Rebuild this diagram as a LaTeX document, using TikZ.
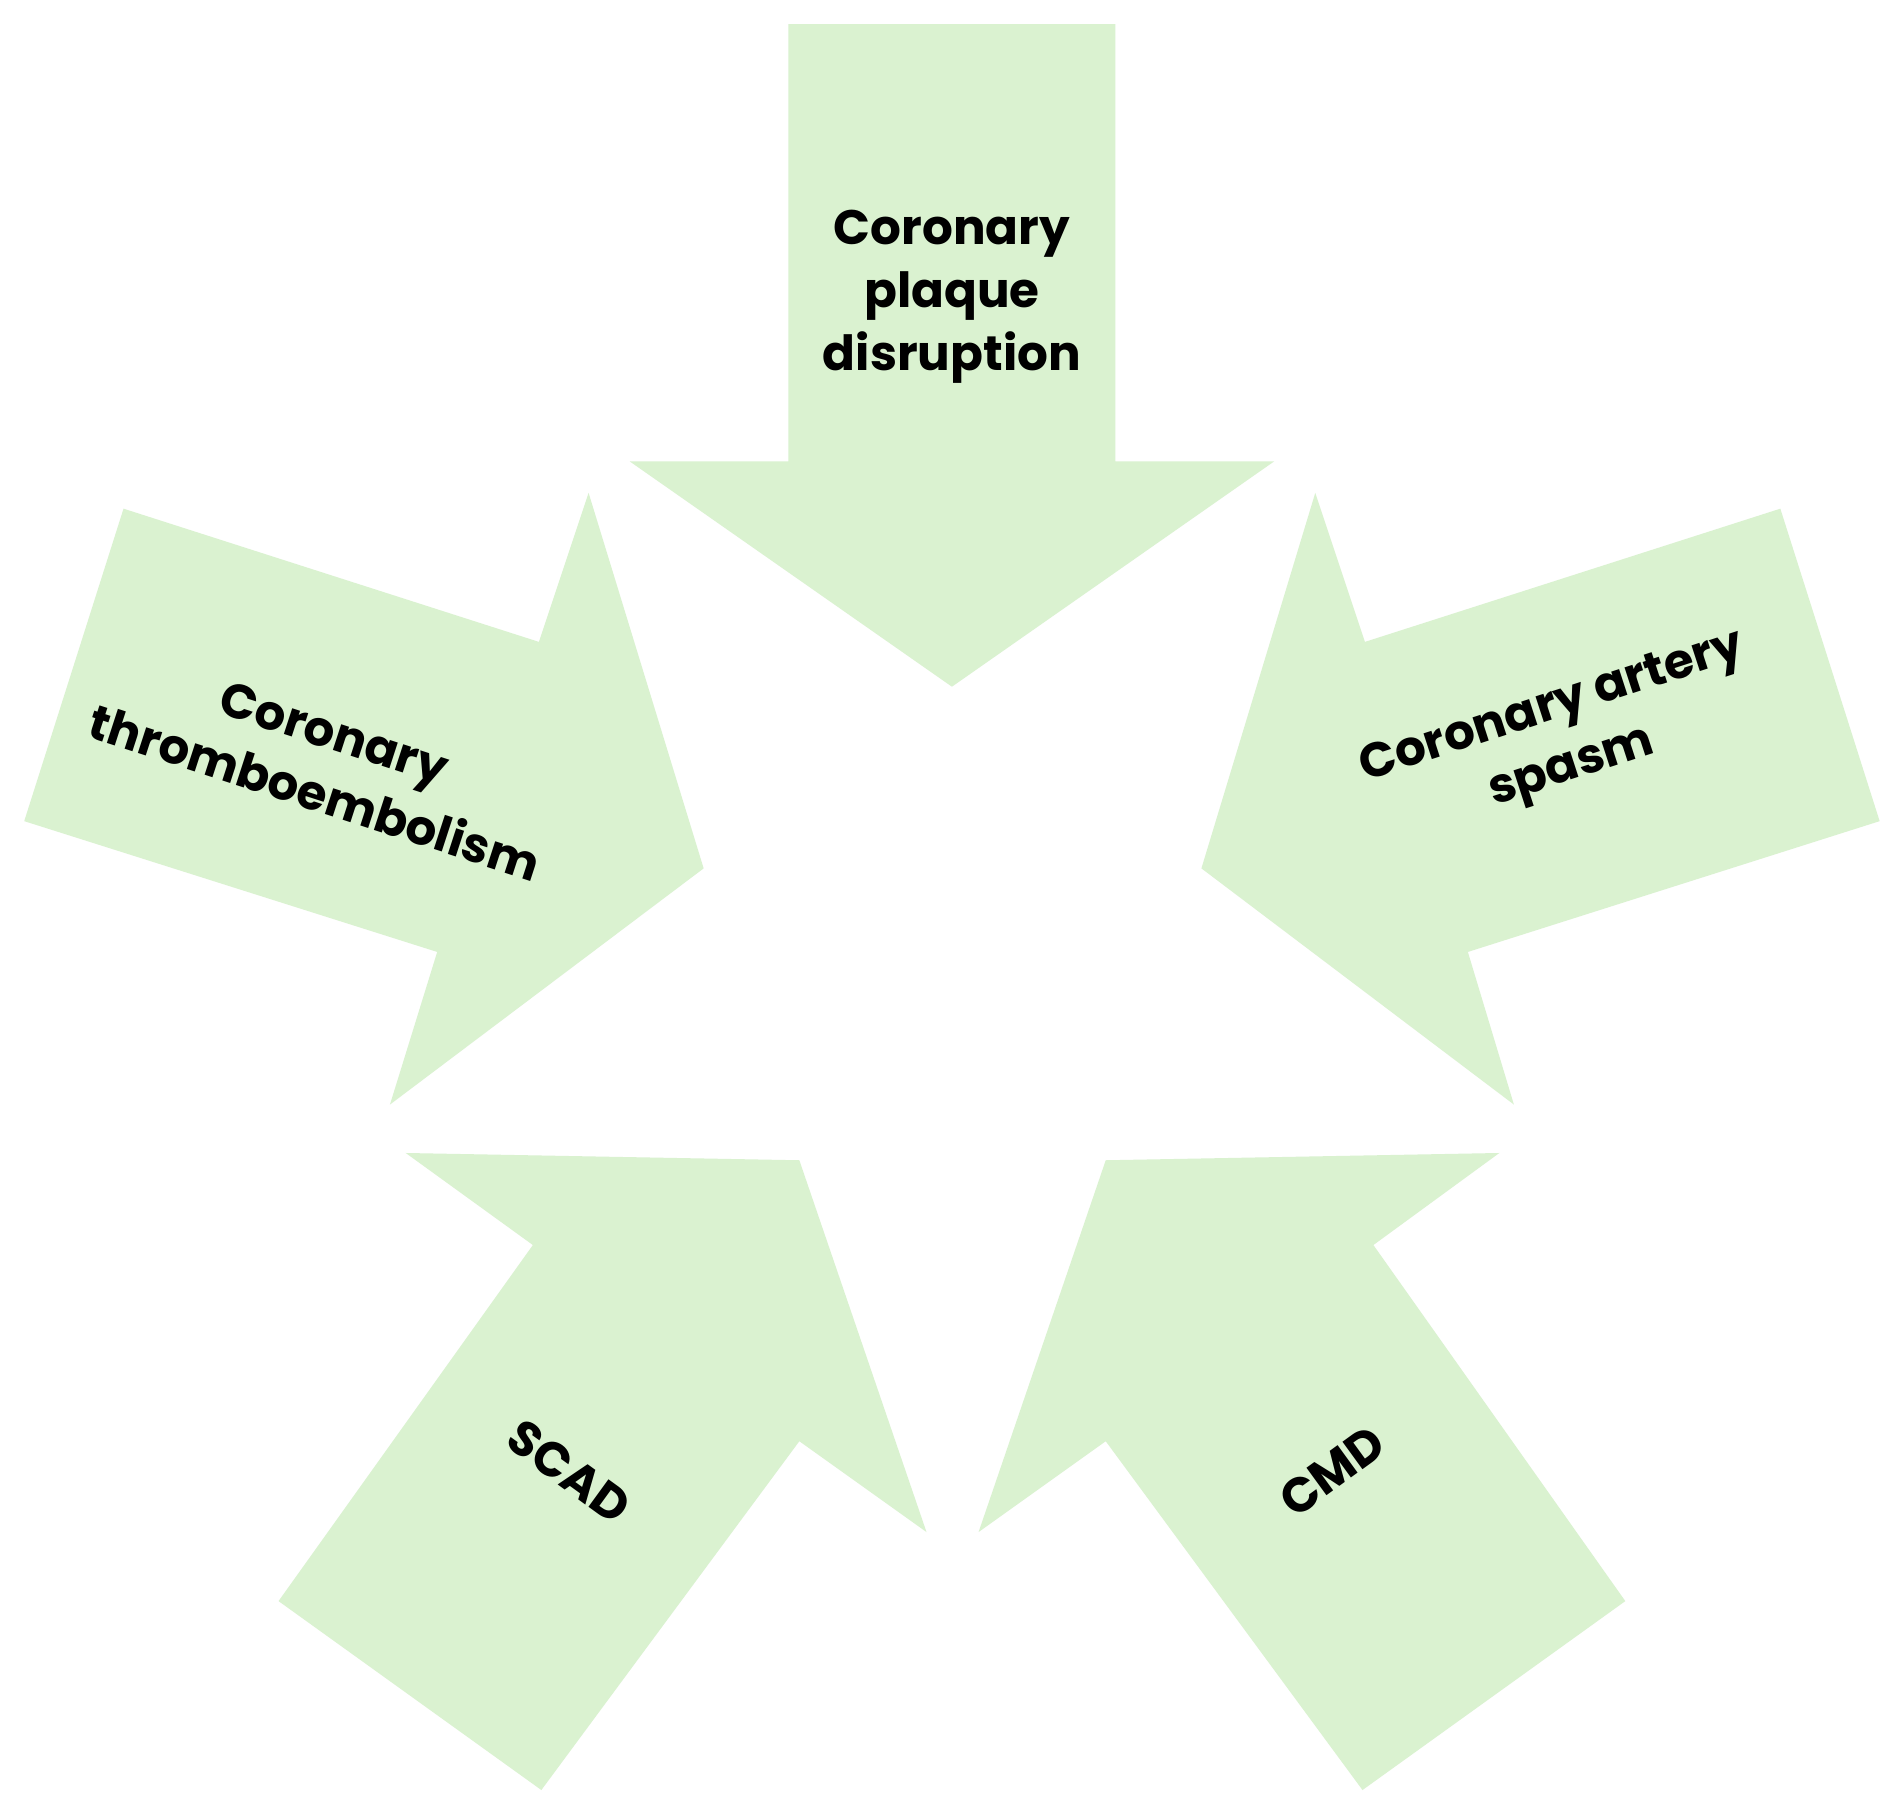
\documentclass[tikz,border=0pt]{standalone}
\usepackage{fontspec}
\setmainfont{Poppins}
\begin{document}
\begin{tikzpicture}[x=0.5pt,y=-0.5pt,
  arr/.style={fill=green!5!lime!10!white, fill=arrowgreen, draw=none},
  lab/.style={font=\fontsize{20}{26}\selectfont\bfseries, align=center, text=black}]
\definecolor{arrowgreen}{HTML}{DAF2D0}
\useasboundingbox[fill=white] (0,0) rectangle (1568,1496);
\fill[arrowgreen] (651,20)--(921,20)--(921,381)--(1052,381)--(786,567)--(520,381)--(651,381)--cycle;
\fill[arrowgreen] (102,420)--(445,530)--(486,407)--(581,717)--(322,912)--(361,786)--(20,678)--cycle;
\fill[arrowgreen] (1470,420)--(1127,530)--(1086,407)--(992,717)--(1250,912)--(1212,786)--(1552,678)--cycle;
\fill[arrowgreen] (335,952)--(660,958)--(765,1265)--(660,1190)--(447,1478)--(230,1322)--(440,1028)--cycle;
\fill[arrowgreen] (1238,952)--(913,958)--(808,1265)--(913,1190)--(1125,1478)--(1342,1322)--(1134,1028)--cycle;
\node[lab] (t) at (786,245) {Coronary\\plaque\\disruption};
\node[lab, rotate=-18] (l) at (268,630) {Coronary\\thromboembolism};
\node[lab, rotate=18] (r) at (1290,610) {Coronary artery\\spasm};
\node[lab, rotate=-36] (bl) at (470,1215) {SCAD};
\node[lab, rotate=36] (br) at (1100,1215) {CMD};
\end{tikzpicture}
\end{document}
